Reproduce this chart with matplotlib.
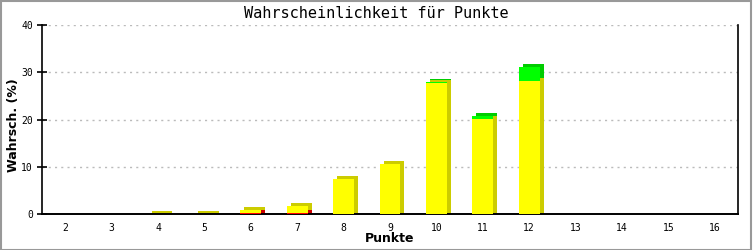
import matplotlib
matplotlib.use("Agg")
import matplotlib.pyplot as plt
import matplotlib.transforms as transforms
from matplotlib.patches import Rectangle
import numpy as np


# Data (stack order: red, yellow, green)
punkte = [2, 3, 4, 5, 6, 7, 8, 9, 10, 11, 12, 13, 14, 15, 16]
rot = [0, 0, 0, 0, 0.35, 0.35, 0, 0, 0, 0, 0, 0, 0, 0, 0]
gelb = [0, 0, 0.15, 0.15, 0.55, 1.4, 7.45, 10.6, 27.7, 20.1, 28.2, 0, 0, 0, 0]
gruen = [0, 0, 0, 0, 0, 0, 0, 0, 0.3, 0.6, 2.9, 0, 0, 0, 0]

farben = ['#ff0000', '#ffff00', '#00ff00']
schatten = ['#cc0000', '#cccc00', '#00cc00']

fig = plt.figure(figsize=(7.53, 2.5), dpi=100)
ax = fig.add_axes([42 / 753, 1 - 214.3 / 250, 696 / 753, 189.3 / 250])

x = np.array(punkte)
rot = np.array(rot)
gelb = np.array(gelb)
gruen = np.array(gruen)
summe = rot + gelb + gruen
breite = 0.45

# Depth faces: same bars shifted right and up by a few pixels.
# The lowest visible segment is extended below zero so the side reaches the axis.
tiefe = ax.transData + transforms.ScaledTranslation(4 / 100, 3 / 100, fig.dpi_scale_trans)
ax.bar(x, np.where(summe > 0, summe + 1.0, 0), breite, bottom=-1.0,
       color=np.where(rot > 0, schatten[0], schatten[1]).tolist(),
       transform=tiefe, zorder=2, linewidth=0)
ax.bar(x, gelb, breite, bottom=rot, color=schatten[1], transform=tiefe, zorder=2, linewidth=0)
ax.bar(x, gruen, breite, bottom=rot + gelb, color=schatten[2], transform=tiefe, zorder=2, linewidth=0)

# Front faces
ax.bar(x, rot, breite, color=farben[0], zorder=3, linewidth=0)
ax.bar(x, gelb, breite, bottom=rot, color=farben[1], zorder=3, linewidth=0)
ax.bar(x, gruen, breite, bottom=rot + gelb, color=farben[2], zorder=3, linewidth=0)

ax.set_xlim(1.5, 16.5)
ax.set_ylim(0, 40)
ax.set_xticks(punkte)
ax.set_yticks([0, 10, 20, 30, 40])
ax.yaxis.grid(True, color='#bbbbbb', linestyle=(0, (1.5, 3)), linewidth=1)
ax.set_axisbelow(True)

ax.spines['top'].set_visible(False)
ax.spines['bottom'].set_linewidth(1.4)
ax.spines['left'].set_linewidth(1.2)
ax.spines['right'].set_linewidth(1.2)
ax.tick_params(axis='x', length=0, pad=6, labelsize=7)
ax.tick_params(axis='y', direction='inout', length=7, width=1.2, pad=3, labelsize=7)
for t in ax.get_xticklabels() + ax.get_yticklabels():
    t.set_family('DejaVu Sans Mono')

fig.text(376 / 753, 1 - 13 / 250, 'Wahrscheinlichkeit für Punkte', ha='center', va='center',
         fontsize=11, family='DejaVu Sans Mono')
ax.set_xlabel('Punkte', fontsize=9, fontweight='bold')
ax.set_ylabel('Wahrsch. (%)', fontsize=9, fontweight='bold')
ax.xaxis.set_label_coords(0.5, (214.3 - 239) / 189.3)
ax.yaxis.set_label_coords((13 - 42) / 696, 0.47)
ax.xaxis.label.set_va('center')
ax.yaxis.label.set_va('center')

# grey frame around the picture
fig.patches.append(Rectangle((0.001, 0.002), 0.997, 0.995, transform=fig.transFigure,
                             fill=False, edgecolor='#999999', linewidth=1.5))

fig.savefig('out.png', dpi=100)
